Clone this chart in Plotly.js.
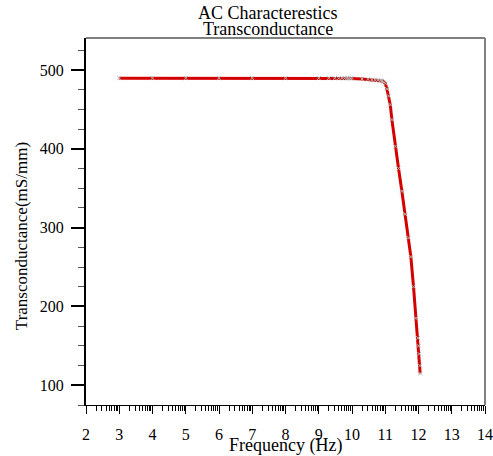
<!DOCTYPE html>
<html>
<head>
<meta charset="utf-8">
<script src="https://cdn.plot.ly/plotly-3.0.1.min.js"></script>
<style>html,body{margin:0;padding:0;background:#fff;}#chart{width:493px;height:456px;}</style>
</head>
<body>
<div id="chart"></div>
<script>
// log10(frequency) values
var logFreq = [3,4,5,6,7,8,9,9.30,9.48,9.60,9.70,9.78,9.85,9.90,9.95,10,10.30,10.48,10.60,10.70,10.78,10.85,10.90,10.95,11.0,11.05,11.1,11.15,11.2,11.3,11.4,11.5,11.6,11.7,11.77,11.85,11.92,11.98,12.0,12.02,12.04,12.05];
var gm = [489.5,489.5,489.5,489.5,489.5,489.5,489.5,489.5,489.5,489.5,489.5,489.5,489.5,489.4,489.3,489.2,488.5,488,487.5,487,487,486.5,486,485,483,476,467,456,437,403,375,346,317,287,263,225,185,160,150,140,125,115];
var xTickVals = [2,3,4,5,6,7,8,9,10,11,12,13,14];
var yTickVals = [100,200,300,400,500];
var titleLine1 = "AC Characterestics";
var titleLine2 = "Transconductance";
var xTitle = "Frequency (Hz)";
var yTitle = "Transconductance(mS/mm)";

var minorX = [];
for (var d = 2; d < 14; d++) {
  for (var k = 2; k <= 9; k++) minorX.push(d + Math.log10(k));
}

var font = "Liberation Serif, Times New Roman, serif";

var trace = {
  x: logFreq, y: gm, type: 'scatter', mode: 'lines+markers',
  line: {color: '#d40000', width: 3},
  marker: {symbol: 'x-thin', size: 4, color: '#b0b0b0', line: {color: '#b0b0b0', width: 1}},
  hoverinfo: 'none', showlegend: false
};

var layout = {
  width: 493, height: 456,
  margin: {l: 86, r: 8, t: 38, b: 51},
  paper_bgcolor: '#ffffff', plot_bgcolor: '#ffffff',
  font: {family: font, color: '#000', size: 16},
  xaxis: {
    range: [2, 14], tickmode: 'array', tickvals: xTickVals,
    ticks: 'outside', ticklen: 8, tickwidth: 1, tickcolor: '#000',
    showline: true, linecolor: '#000', linewidth: 1,
    showgrid: false, zeroline: false,
    ticklabelstandoff: 7,
    tickfont: {family: font, size: 16, color: '#000'},
    minor: {tickmode: 'array', tickvals: minorX, ticks: 'outside', ticklen: 5, tickwidth: 1, tickcolor: '#000', showgrid: false}
  },
  yaxis: {
    range: [75, 540.5], tickmode: 'array', tickvals: yTickVals,
    ticks: 'outside', ticklen: 13, tickwidth: 2, tickcolor: '#000',
    showline: true, linecolor: '#000', linewidth: 2,
    showgrid: false, zeroline: false,
    ticklabelstandoff: 4,
    tickfont: {family: font, size: 16, color: '#000'},
    minor: {dtick: 25, tick0: 0, ticks: 'outside', ticklen: 6, tickwidth: 1, tickcolor: '#555', showgrid: false}
  },
  shapes: [
    {type: 'line', xref: 'paper', yref: 'paper', x0: 0, x1: 1, y0: 1, y1: 1, line: {color: '#808080', width: 2}},
    {type: 'line', xref: 'paper', yref: 'paper', x0: 1, x1: 1, y0: 0, y1: 1, line: {color: '#808080', width: 2}}
  ],
  annotations: [
    {text: titleLine1, xref: 'paper', yref: 'paper', x: 0.456, y: 1.068, xanchor: 'center', yanchor: 'middle', showarrow: false, font: {family: font, size: 18, color: '#000'}},
    {text: titleLine2, xref: 'paper', yref: 'paper', x: 0.456, y: 1.0245, xanchor: 'center', yanchor: 'middle', showarrow: false, font: {family: font, size: 18, color: '#000'}},
    {text: xTitle, xref: 'paper', yref: 'paper', x: 0.501, y: -0.1117, xanchor: 'center', yanchor: 'middle', showarrow: false, font: {family: font, size: 18, color: '#000'}},
    {text: yTitle, xref: 'paper', yref: 'paper', x: -0.160, y: 0.4605, xanchor: 'center', yanchor: 'middle', textangle: -90, showarrow: false, font: {family: font, size: 17, color: '#000'}}
  ]
};

Plotly.newPlot('chart', [trace], layout, {displayModeBar: false, staticPlot: true});
</script>
</body>
</html>
